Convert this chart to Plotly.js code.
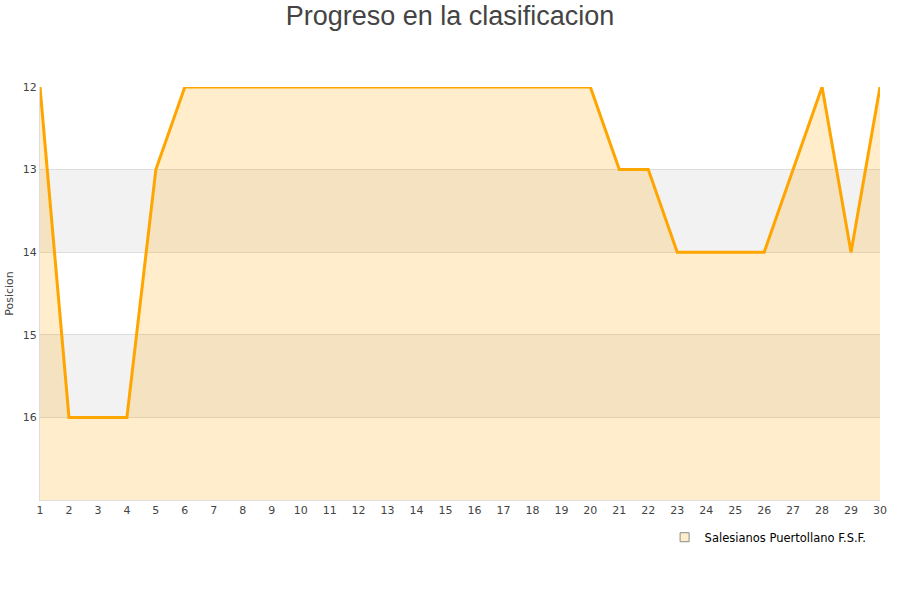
<!DOCTYPE html>
<html>
<head>
<meta charset="utf-8">
<script src="https://cdn.plot.ly/plotly-3.0.1.min.js"></script>
<style>html,body{margin:0;padding:0;background:#fff;}#chart{width:900px;height:600px;}</style>
</head>
<body>
<div id="chart"></div>
<script>
// Jornadas y posición del equipo en cada una
const jornadas = [1,2,3,4,5,6,7,8,9,10,11,12,13,14,15,16,17,18,19,20,21,22,23,24,25,26,27,28,29,30];
const posiciones = [12,16,16,16,13,12,12,12,12,12,12,12,12,12,12,12,12,12,12,12,13,13,14,14,14,14,13,12,14,12];
const equipo = 'Salesianos Puertollano F.S.F.';
const fondo = 17;
const posTicks = [12,13,14,15,16];

// línea base invisible para rellenar hasta el fondo del eje
const base = {
  x: jornadas,
  y: jornadas.map(() => fondo),
  mode: 'lines',
  line: {width: 0, color: 'rgba(0,0,0,0)'},
  hoverinfo: 'skip',
  showlegend: false
};

const serie = {
  x: jornadas,
  y: posiciones,
  name: equipo,
  mode: 'lines',
  fill: 'tonexty',
  fillcolor: 'rgba(255,165,0,0.2)',
  line: {color: '#FFA500', width: 3},
  showlegend: false
};

// entrada de leyenda con icono cuadrado
const leyenda = {
  x: [null], y: [null],
  name: equipo,
  mode: 'markers',
  marker: {symbol: 'square', size: 9, color: '#FFEDCC', line: {color: '#8c8c8c', width: 1}},
  showlegend: true
};

// bandas alternas de fondo
const bandas = [[13,14],[15,16]].map(([a,b]) => ({
  type: 'rect', xref: 'paper', yref: 'y', x0: 0, x1: 1, y0: a, y1: b,
  fillcolor: '#f2f2f2', line: {width: 0}, layer: 'below'
}));

const layout = {
  width: 900, height: 600,
  margin: {l: 40, r: 20, t: 87, b: 100},
  paper_bgcolor: '#fff', plot_bgcolor: '#fff',
  font: {family: 'DejaVu Sans, sans-serif', size: 11, color: '#444'},
  title: {text: 'Progreso en la clasificacion', font: {family: 'Liberation Sans, Arial, sans-serif', size: 27, color: '#444'}, x: 0.5, xanchor: 'center', y: 0.99, yanchor: 'top'},
  xaxis: {
    range: [1, 30], tickvals: jornadas, ticktext: jornadas.map(String),
    showgrid: false, zeroline: false, showline: true, linecolor: '#ddd', linewidth: 1,
    ticks: '', tickfont: {size: 11, color: '#444'}
  },
  yaxis: {
    range: [fondo, 12], tickvals: posTicks, ticktext: posTicks.map(String),
    showgrid: true, gridcolor: '#ddd', zeroline: false, showline: true, linecolor: '#ddd', linewidth: 1,
    ticks: '', tickfont: {size: 11, color: '#444'},
    title: {text: 'Posicion', font: {size: 11, color: '#444'}, standoff: 6}
  },
  shapes: bandas,
  showlegend: true,
  legend: {orientation: 'h', x: 0.99, xanchor: 'right', y: -0.055, yanchor: 'top', font: {size: 11.5, color: '#000'}, bgcolor: 'rgba(0,0,0,0)', itemwidth: 30}
};

Plotly.newPlot('chart', [base, serie, leyenda], layout, {displayModeBar: false, staticPlot: true});
</script>
</body>
</html>
